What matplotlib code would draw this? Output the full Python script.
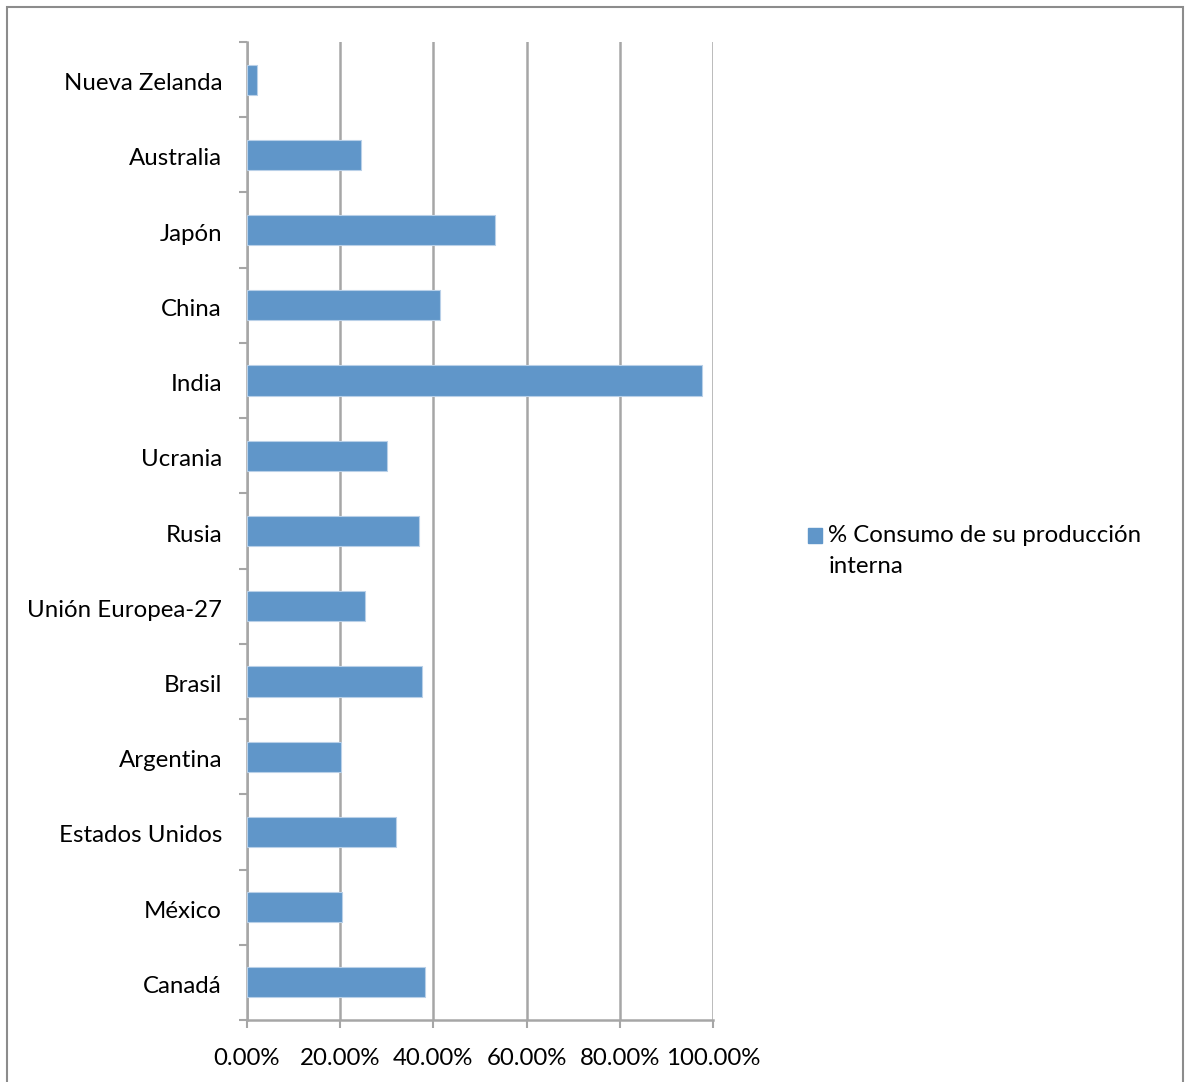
import matplotlib
matplotlib.use("Agg")
import matplotlib.pyplot as plt
import matplotlib.transforms as mtransforms
from matplotlib.patches import Rectangle
from matplotlib.container import BarContainer
from matplotlib.legend_handler import HandlerPatch
from matplotlib.ticker import FixedLocator, PercentFormatter
import numpy as np

plt.rcParams['font.family'] = ['Lato', 'DejaVu Sans']

countries = ["Canadá", "México", "Estados Unidos", "Argentina", "Brasil",
             "Unión Europea-27", "Rusia", "Ucrania", "India", "China",
             "Japón", "Australia", "Nueva Zelanda"]
values = [38.2, 20.4, 32.0, 20.2, 37.6, 25.3, 36.9, 30.0, 97.6, 41.4, 53.2, 24.5, 2.1]
series_label = "% Consumo de su producción\ninterna"
xticks = [0, 20, 40, 60, 80, 100]

W, H = 1186, 1082
fig = plt.figure(figsize=(W/100, H/100), dpi=100)
ax = fig.add_axes([247/W, 1-1020/H, (713-247)/W, (1020-42)/H])

bar_c = "#6096C9"
grid_c = "#A6A6A6"
fs = 17.3
y = np.arange(len(countries))
ax.barh(y, values, height=0.4, color=bar_c, edgecolor="#B9D0E8",
        linewidth=0.8, label=series_label, zorder=3)

ax.set_xlim(0, 100)
ax.set_ylim(-0.5, len(countries) - 0.5)
ax.set_xticks(xticks)
ax.xaxis.set_major_formatter(PercentFormatter(decimals=2))
ax.grid(axis='x', color=grid_c, linewidth=1.8, zorder=0)
ax.set_yticks(y)
ax.set_yticklabels(countries)
ax.yaxis.set_minor_locator(FixedLocator(np.arange(-0.5, len(countries), 1.0)))
ax.tick_params(axis='y', which='major', length=0, pad=18, labelsize=fs)
ax.tick_params(axis='y', which='minor', length=6, width=1.5, color=grid_c, direction='out')
ax.tick_params(axis='x', length=6, width=1.5, color=grid_c, pad=14, labelsize=fs)
for s in ['top', 'right']:
    ax.spines[s].set_visible(False)
for s in ['left', 'bottom']:
    ax.spines[s].set_color(grid_c)
    ax.spines[s].set_linewidth(1.8)
shift = mtransforms.ScaledTranslation(0, -2/100, fig.dpi_scale_trans)
for lab in ax.get_yticklabels():
    lab.set_va('center_baseline')
    lab.set_transform(lab.get_transform() + shift)


def top_patch(legend, orig_handle, xdescent, ydescent, width, height, fontsize):
    return Rectangle((-xdescent, -ydescent + 0.66 * fontsize), width, height,
                     facecolor=bar_c, edgecolor=bar_c)


def no_update(legend_handle, orig_handle):
    pass


leg = ax.legend(loc='center left', bbox_to_anchor=(808/W, 1-551/H),
                bbox_transform=fig.transFigure, frameon=False, fontsize=fs,
                handlelength=0.58, handleheight=0.58, handletextpad=0.27,
                borderpad=0, borderaxespad=0,
                handler_map={BarContainer: HandlerPatch(patch_func=top_patch,
                                                        update_func=no_update)})
for t in leg.get_texts():
    t.set_linespacing(1.55)

fig.patches.append(Rectangle((7/W, -0.05), (1183-7)/W, 1.05 - 7/H,
                             transform=fig.transFigure, fill=False,
                             edgecolor="#8C8C8C", linewidth=1.5))

fig.savefig("out.png", dpi=100)
